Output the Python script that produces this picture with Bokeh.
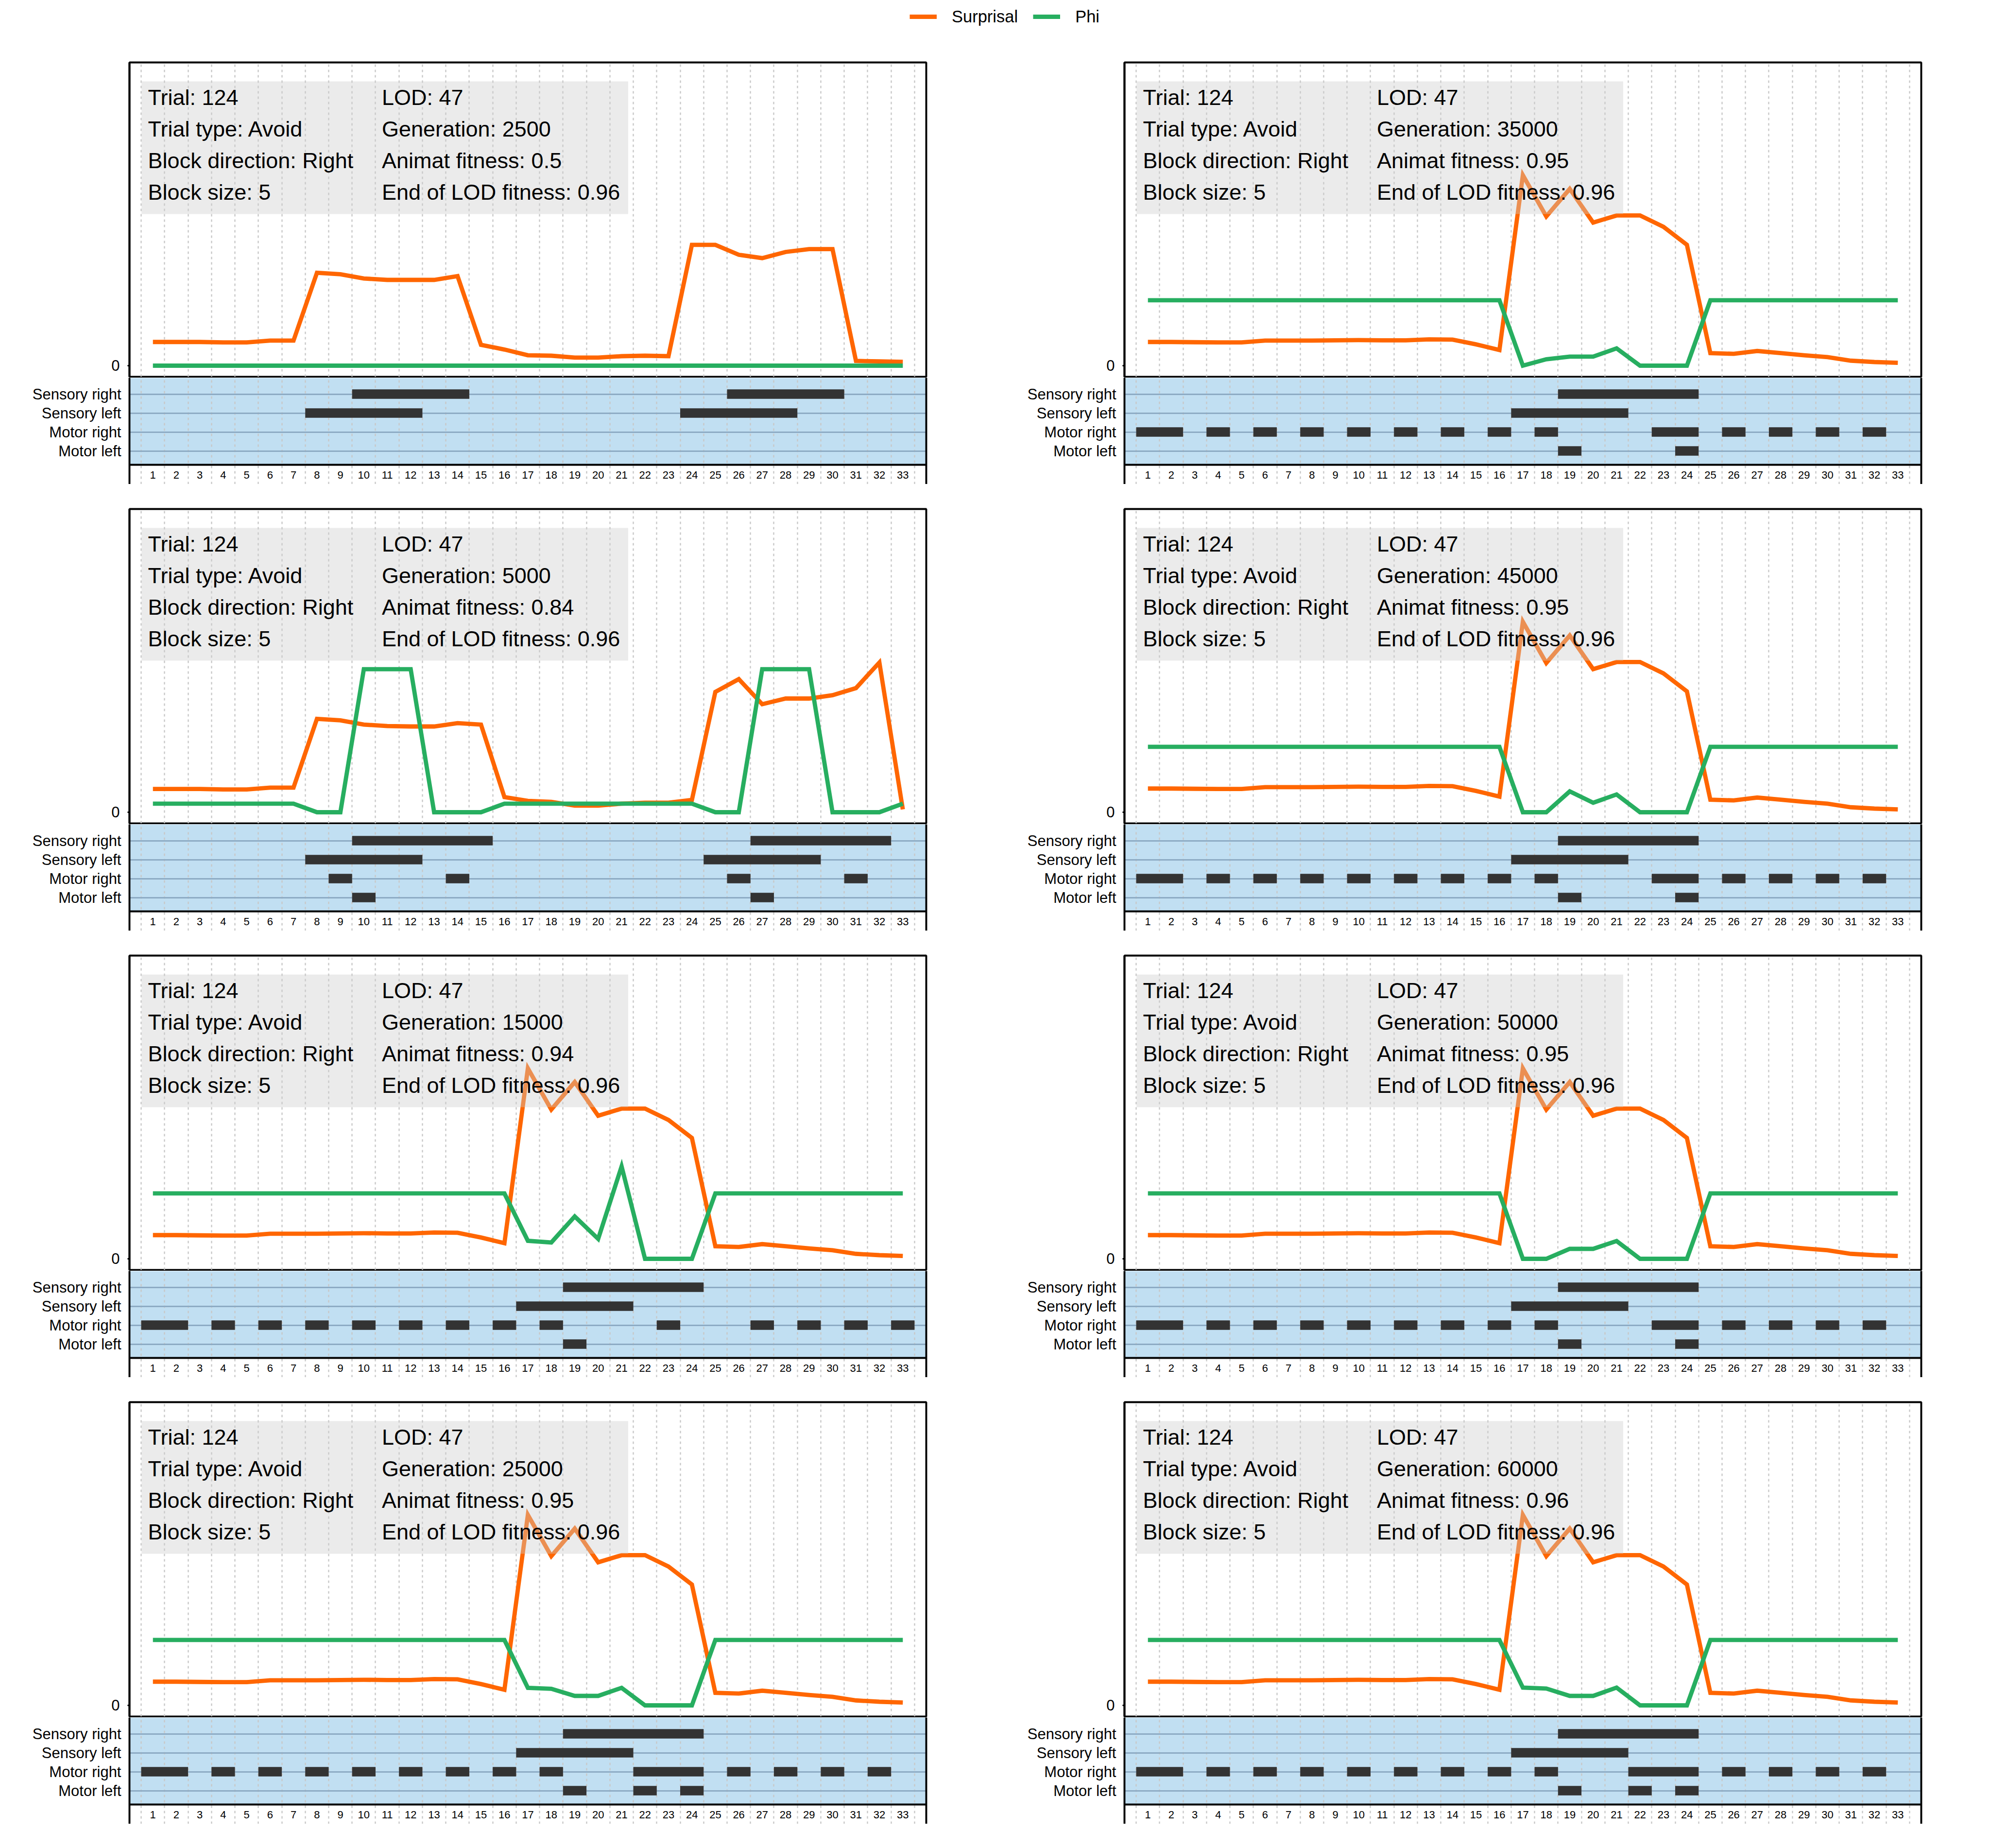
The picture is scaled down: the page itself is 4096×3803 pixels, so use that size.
from bokeh.plotting import figure
from bokeh.models import (Range1d, FixedTicker, BoxAnnotation, Span, LinearAxis,
                          Legend, LegendItem)
from bokeh.layouts import column, row
from bokeh.embed import file_html
from bokeh.resources import INLINE
from bokeh.core.properties import value

# ---------------- data ----------------
steps = list(range(1, 34))
tick_labels = [str(s) for s in steps]
lane_names = ["Sensory right", "Sensory left", "Motor right", "Motor left"]
series_names = ["Surprisal", "Phi"]

trial = 124
trial_type = "Avoid"
block_direction = "Right"
block_size = 5
lod = 47
end_of_lod_fitness = 0.96

# panel order: left column top->bottom, then right column top->bottom
generations = [2500, 5000, 15000, 25000, 35000, 45000, 50000, 60000]
animat_fitness = [0.5, 0.84, 0.94, 0.95, 0.95, 0.95, 0.95, 0.96]

surprisal_g2500 = [0.50, 0.50, 0.50, 0.49, 0.49, 0.53, 0.53, 1.96, 1.93, 1.84, 1.81,
                   1.81, 1.81, 1.89, 0.44, 0.34, 0.22, 0.21, 0.17, 0.17, 0.20, 0.21,
                   0.20, 2.55, 2.55, 2.34, 2.27, 2.40, 2.46, 2.46, 0.10, 0.09, 0.08]
surprisal_g5000 = [0.49, 0.49, 0.49, 0.48, 0.48, 0.52, 0.52, 1.97, 1.94, 1.85, 1.82,
                   1.81, 1.81, 1.88, 1.85, 0.32, 0.24, 0.22, 0.14, 0.14, 0.18, 0.20,
                   0.20, 0.26, 2.54, 2.81, 2.28, 2.40, 2.40, 2.47, 2.62, 3.16, 0.06]
surprisal_late = [0.50, 0.50, 0.495, 0.49, 0.49, 0.53, 0.53, 0.53, 0.535, 0.54, 0.535,
                  0.535, 0.555, 0.55, 0.45, 0.33, 4.02, 3.15, 3.73, 3.02, 3.17, 3.17,
                  2.93, 2.55, 0.265, 0.25, 0.31, 0.265, 0.22, 0.18, 0.105, 0.077, 0.06]

phi_g2500 = [0, 0, 0, 0, 0, 0, 0, 0, 0, 0, 0, 0, 0, 0, 0, 0, 0, 0, 0, 0, 0, 0,
             0, 0, 0, 0, 0, 0, 0, 0, 0, 0, 0]
phi_g5000 = [0.18, 0.18, 0.18, 0.18, 0.18, 0.18, 0.18, 0, 0, 3.02, 3.02, 3.02, 0, 0,
             0, 0.18, 0.18, 0.18, 0.18, 0.18, 0.18, 0.18, 0.18, 0.18, 0, 0, 3.02,
             3.02, 3.02, 0, 0, 0, 0.18]
phi_g15000 = [1.38, 1.38, 1.38, 1.38, 1.38, 1.38, 1.38, 1.38, 1.38, 1.38, 1.38, 1.38,
              1.38, 1.38, 1.38, 1.38, 0.38, 0.345, 0.895, 0.42, 1.95, 0, 0, 0, 1.38,
              1.38, 1.38, 1.38, 1.38, 1.38, 1.38, 1.38, 1.38]
phi_g25000 = [1.38, 1.38, 1.38, 1.38, 1.38, 1.38, 1.38, 1.38, 1.38, 1.38, 1.38, 1.38,
              1.38, 1.38, 1.38, 1.38, 0.37, 0.35, 0.20, 0.20, 0.37, 0, 0, 0, 1.38,
              1.38, 1.38, 1.38, 1.38, 1.38, 1.38, 1.38, 1.38]
phi_g35000 = [1.38, 1.38, 1.38, 1.38, 1.38, 1.38, 1.38, 1.38, 1.38, 1.38, 1.38, 1.38,
              1.38, 1.38, 1.38, 1.38, 0, 0.135, 0.19, 0.19, 0.365, 0, 0, 0, 1.38,
              1.38, 1.38, 1.38, 1.38, 1.38, 1.38, 1.38, 1.38]
phi_g45000 = [1.38, 1.38, 1.38, 1.38, 1.38, 1.38, 1.38, 1.38, 1.38, 1.38, 1.38, 1.38,
              1.38, 1.38, 1.38, 1.38, 0, 0, 0.44, 0.20, 0.375, 0, 0, 0, 1.38,
              1.38, 1.38, 1.38, 1.38, 1.38, 1.38, 1.38, 1.38]
phi_g50000 = [1.38, 1.38, 1.38, 1.38, 1.38, 1.38, 1.38, 1.38, 1.38, 1.38, 1.38, 1.38,
              1.38, 1.38, 1.38, 1.38, 0, 0, 0.21, 0.21, 0.375, 0, 0, 0, 1.38,
              1.38, 1.38, 1.38, 1.38, 1.38, 1.38, 1.38, 1.38]
phi_g60000 = [1.38, 1.38, 1.38, 1.38, 1.38, 1.38, 1.38, 1.38, 1.38, 1.38, 1.38, 1.38,
              1.38, 1.38, 1.38, 1.38, 0.375, 0.355, 0.20, 0.20, 0.375, 0, 0, 0, 1.38,
              1.38, 1.38, 1.38, 1.38, 1.38, 1.38, 1.38, 1.38]

# active time steps per lane
lanes_g2500 = {"Sensory right": [10, 11, 12, 13, 14, 26, 27, 28, 29, 30],
               "Sensory left": [8, 9, 10, 11, 12, 24, 25, 26, 27, 28],
               "Motor right": [],
               "Motor left": []}
lanes_g5000 = {"Sensory right": [10, 11, 12, 13, 14, 15, 27, 28, 29, 30, 31, 32],
               "Sensory left": [8, 9, 10, 11, 12, 25, 26, 27, 28, 29],
               "Motor right": [9, 14, 26, 31],
               "Motor left": [10, 27]}
lanes_g15000 = {"Sensory right": [19, 20, 21, 22, 23, 24],
                "Sensory left": [17, 18, 19, 20, 21],
                "Motor right": [1, 2, 4, 6, 8, 10, 12, 14, 16, 18, 23, 27, 29, 31, 33],
                "Motor left": [19]}
lanes_g25000 = {"Sensory right": [19, 20, 21, 22, 23, 24],
                "Sensory left": [17, 18, 19, 20, 21],
                "Motor right": [1, 2, 4, 6, 8, 10, 12, 14, 16, 18, 22, 23, 24, 26, 28, 30, 32],
                "Motor left": [19, 22, 24]}
lanes_g35000 = {"Sensory right": [19, 20, 21, 22, 23, 24],
                "Sensory left": [17, 18, 19, 20, 21],
                "Motor right": [1, 2, 4, 6, 8, 10, 12, 14, 16, 18, 23, 24, 26, 28, 30, 32],
                "Motor left": [19, 24]}
lanes_g45000 = {"Sensory right": [19, 20, 21, 22, 23, 24],
                "Sensory left": [17, 18, 19, 20, 21],
                "Motor right": [1, 2, 4, 6, 8, 10, 12, 14, 16, 18, 23, 24, 26, 28, 30, 32],
                "Motor left": [19, 24]}
lanes_g50000 = {"Sensory right": [19, 20, 21, 22, 23, 24],
                "Sensory left": [17, 18, 19, 20, 21],
                "Motor right": [1, 2, 4, 6, 8, 10, 12, 14, 16, 18, 23, 24, 26, 28, 30, 32],
                "Motor left": [19, 24]}
lanes_g60000 = {"Sensory right": [19, 20, 21, 22, 23, 24],
                "Sensory left": [17, 18, 19, 20, 21],
                "Motor right": [1, 2, 4, 6, 8, 10, 12, 14, 16, 18, 22, 23, 24, 26, 28, 30, 32],
                "Motor left": [19, 22, 24]}

surprisal_series = [surprisal_g2500, surprisal_g5000, surprisal_late, surprisal_late,
                    surprisal_late, surprisal_late, surprisal_late, surprisal_late]
phi_series = [phi_g2500, phi_g5000, phi_g15000, phi_g25000,
              phi_g35000, phi_g45000, phi_g50000, phi_g60000]
lane_series = [lanes_g2500, lanes_g5000, lanes_g15000, lanes_g25000,
               lanes_g35000, lanes_g45000, lanes_g50000, lanes_g60000]

# ---------------- style / layout ----------------
FONT = "Liberation Sans"
ORANGE = "#ff6600"
GREEN = "#27ae60"
LANE_BG = "#c1dff2"
ROW_LINE = "#8dabc4"
BAR = "#333333"
GRID = "#c8c8c8"
LW = 8.8
FRAME_LW = 3.9

FIG_W = 2048
B_LEFT = 266
B_RIGHT = 142
LINE_FRAME_H = 647
SEP_B = 2
LANE_FRAME_H = 219
LEG_H = 70
ROW1_GAP = 58
ROW_GAP = 51

LINE_Y0 = -0.236
LINE_Y1 = LINE_Y0 + LINE_FRAME_H / 97.5
LANE_BOTTOM = 0.27
LANE_Y0 = LANE_BOTTOM - 40 / 39.0
LANE_Y1 = LANE_BOTTOM + (LANE_FRAME_H - 40) / 39.0
LABEL_Y = -0.28
TEXT_BASELINES = [5.66, 4.995, 4.33, 3.665]

grid_x = [s - 0.5 for s in steps] + [steps[-1] + 0.5]
lane_y = {name: 4 - k for k, name in enumerate(lane_names)}


def style_xgrid(p):
    p.xgrid.ticker = FixedTicker(ticks=grid_x)
    p.xgrid.grid_line_color = GRID
    p.xgrid.grid_line_dash = "5 6"
    p.xgrid.grid_line_width = 2.4


def runs(active):
    out = []
    for s in sorted(active):
        if out and s == out[-1][1] + 1:
            out[-1][1] = s
        else:
            out.append([s, s])
    return out


def make_line_fig(i, top_gap):
    p = figure(width=FIG_W, height=top_gap + LINE_FRAME_H + SEP_B,
               x_range=Range1d(0, 34), y_range=Range1d(LINE_Y0, LINE_Y1),
               toolbar_location=None, output_backend="svg", x_axis_location=None,
               title=None, min_border_left=B_LEFT, min_border_right=B_RIGHT,
               min_border_top=top_gap, min_border_bottom=SEP_B,
               outline_line_color="black", outline_line_width=FRAME_LW,
               outline_line_alpha=1.0, background_fill_color="white",
               border_fill_color="white")
    ax = p.yaxis[0]
    ax.ticker = FixedTicker(ticks=[0])
    ax.axis_line_width = FRAME_LW
    ax.axis_line_color = "black"
    ax.major_tick_out = 4
    ax.major_tick_in = 0
    ax.major_tick_line_width = 3
    ax.minor_tick_out = 0
    ax.minor_tick_in = 0
    ax.major_label_text_font = FONT
    ax.major_label_text_font_size = "31px"
    ax.major_label_text_color = "black"
    ax.major_label_standoff = 16
    style_xgrid(p)
    p.ygrid.grid_line_color = None

    p.line(x=steps, y=surprisal_series[i], line_color=ORANGE, line_width=LW,
           line_join="miter")
    p.line(x=steps, y=phi_series[i], line_color=GREEN, line_width=LW,
           line_join="miter")

    box = BoxAnnotation(left=0.515, right=21.28, bottom=3.20, top=6.0,
                        fill_color="#cccccc", fill_alpha=0.4, line_color=None)
    p.add_layout(box)

    left_txt = ["Trial: %d" % trial, "Trial type: %s" % trial_type,
                "Block direction: %s" % block_direction, "Block size: %d" % block_size]
    right_txt = ["LOD: %d" % lod, "Generation: %d" % generations[i],
                 "Animat fitness: %s" % animat_fitness[i],
                 "End of LOD fitness: %s" % end_of_lod_fitness]
    for xx, txt in ((0.79, left_txt), (10.77, right_txt)):
        p.text(x=xx, y=TEXT_BASELINES, text=txt, text_font=value(FONT),
               text_font_size="45px", text_color="black", text_align="left",
               text_baseline="alphabetic", level="overlay")
    return p


def make_lane_fig(i, xr):
    q = figure(width=FIG_W, height=LANE_FRAME_H, x_range=xr,
               y_range=Range1d(LANE_Y0, LANE_Y1), toolbar_location=None,
               output_backend="svg", x_axis_location=None, title=None,
               min_border_left=B_LEFT, min_border_right=B_RIGHT,
               min_border_top=0, min_border_bottom=0, outline_line_color=None,
               background_fill_color="white", border_fill_color="white")
    ax = q.yaxis[0]
    ax.ticker = FixedTicker(ticks=[lane_y[n] for n in lane_names])
    ax.major_label_overrides = {lane_y[n]: n for n in lane_names}
    ax.axis_line_width = FRAME_LW
    ax.axis_line_color = "black"
    ax.major_tick_out = 0
    ax.major_tick_in = 0
    ax.minor_tick_out = 0
    ax.minor_tick_in = 0
    ax.major_label_text_font = FONT
    ax.major_label_text_font_size = "31px"
    ax.major_label_text_color = "black"
    ax.major_label_standoff = 17

    rax = LinearAxis(ticker=FixedTicker(ticks=[]), axis_line_width=FRAME_LW,
                     axis_line_color="black", major_tick_out=0, major_tick_in=0,
                     minor_tick_out=0, minor_tick_in=0,
                     major_label_text_font_size="0px", major_label_standoff=0)
    q.add_layout(rax, "right")

    q.add_layout(BoxAnnotation(bottom=LANE_BOTTOM, fill_color=LANE_BG, fill_alpha=1.0,
                               line_color=None, level="image"))
    style_xgrid(q)
    q.ygrid.ticker = FixedTicker(ticks=[lane_y[n] for n in lane_names])
    q.ygrid.grid_line_color = ROW_LINE
    q.ygrid.grid_line_width = 2.9

    ys, lefts, rights = [], [], []
    for name in lane_names:
        for a, b in runs(lane_series[i][name]):
            ys.append(lane_y[name])
            lefts.append(a - 0.5)
            rights.append(b + 0.5)
    if ys:
        q.hbar(y=ys, left=lefts, right=rights, height=0.5, fill_color=BAR,
               line_color=None)

    q.add_layout(Span(location=LANE_BOTTOM, dimension="width", line_color="black",
                      line_width=FRAME_LW))
    q.text(x=steps, y=LABEL_Y, text=tick_labels, text_font=value(FONT),
           text_font_size="22px", text_color="black", text_align="center",
           text_baseline="middle")
    return q


# legend figure (renderers hold a single point so nothing is drawn in the frame)
leg = figure(width=4096, height=LEG_H, x_range=Range1d(0, 1), y_range=Range1d(0, 1),
             toolbar_location=None, output_backend="svg", x_axis_location=None,
             y_axis_location=None, title=None, min_border=0, outline_line_color=None)
leg.grid.visible = False
r1 = leg.line(x=[0], y=[0], line_color=ORANGE, line_width=LW)
r2 = leg.line(x=[0], y=[0], line_color=GREEN, line_width=LW)
legend = Legend(items=[LegendItem(label=series_names[0], renderers=[r1]),
                       LegendItem(label=series_names[1], renderers=[r2])],
                orientation="horizontal", location=(1872, 16), glyph_width=56,
                glyph_height=40, label_height=40, label_standoff=31, spacing=31,
                padding=0, margin=0, border_line_color=None,
                background_fill_alpha=0.0, label_text_font=FONT,
                label_text_font_size="34.5px", label_text_color="black")
leg.add_layout(legend)

cols = []
for c in range(2):
    figs = []
    for r in range(4):
        i = c * 4 + r
        lf = make_line_fig(i, ROW1_GAP if r == 0 else ROW_GAP)
        figs.append(lf)
        figs.append(make_lane_fig(i, lf.x_range))
    cols.append(column(*figs, spacing=0))

page = column(leg, row(*cols, spacing=0), spacing=0)

open("out.html", "w").write(file_html(page, INLINE))
